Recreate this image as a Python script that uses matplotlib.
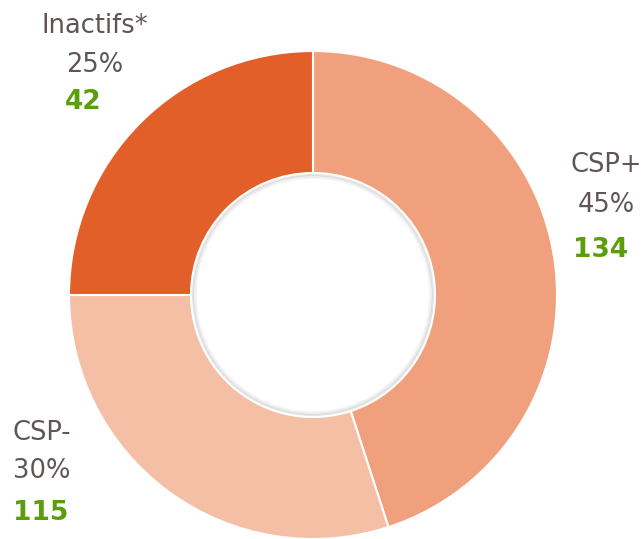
import matplotlib.pyplot as plt
from matplotlib.patches import Circle

labels = ['CSP+', 'CSP-', 'Inactifs*']
shares = [45, 30, 25]
counts = [134, 115, 42]
colors = ['#F0A07C', '#F5BFA5', '#E35F2A']

W, H = 643, 539
fig = plt.figure(figsize=(W / 100, H / 100), dpi=100)
ax = fig.add_axes([0, 0, 1, 1])

cx, cy, r = 313, H - 295, 244
ax.pie(shares, colors=colors, startangle=90, counterclock=False,
       center=(cx, cy), radius=r, frame=True,
       wedgeprops=dict(width=r * 0.5, edgecolor='white', linewidth=1.5))

# soft shadow inside the hole
for i, a in enumerate([0.10, 0.06, 0.03]):
    ax.add_patch(Circle((cx, cy), r * 0.5 - 2 - i * 1.5, fill=False,
                        edgecolor='black', alpha=a, linewidth=1.5))

ax.set_xlim(0, W)
ax.set_ylim(0, H)
ax.set_aspect('equal')
ax.axis('off')

# label positions (x centre, baselines of name / pct / count)
pos = {
    'CSP+': (606, 172, 212, 601, 257),
    'CSP-': (42, 440, 478, 41, 520),
    'Inactifs*': (95, 33, 72, 83, 109),
}
grey = '#5F5555'
green = '#5B9E0B'
for lab, pct, n in zip(labels, shares, counts):
    x, b1, b2, xn, b3 = pos[lab]
    ax.text(x, H - b1, lab, ha='center', va='baseline', fontsize=18.5, color=grey)
    ax.text(x, H - b2, f'{pct}%', ha='center', va='baseline', fontsize=18.5, color=grey)
    ax.text(xn, H - b3, str(n), ha='center', va='baseline', fontsize=19,
            color=green, fontweight='bold')

fig.savefig('out.png', dpi=100)
